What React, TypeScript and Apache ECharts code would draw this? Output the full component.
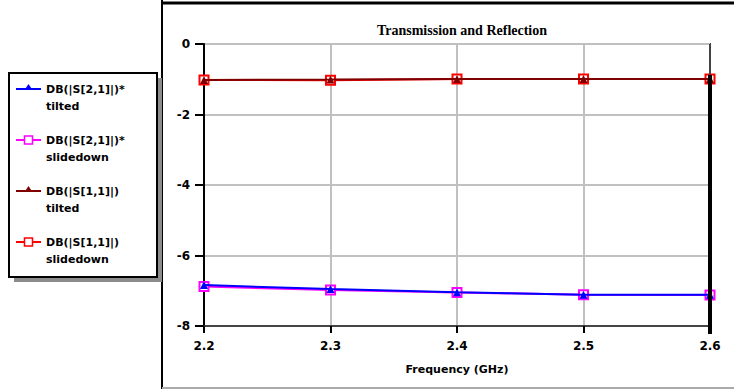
import React, { useEffect, useRef } from "react";
import * as echarts from "echarts";

const freqs = [2.2, 2.3, 2.4, 2.5, 2.6];
const s21Tilted = [-6.84, -6.95, -7.04, -7.11, -7.11];
const s21Slide = [-6.88, -6.98, -7.05, -7.11, -7.12];
const s11Tilted = [-1.02, -1.01, -0.99, -0.99, -0.99];
const s11Slide = [-1.02, -1.03, -0.99, -0.99, -0.99];
const yTicks = [-8, -6, -4, -2, 0];
const xTicks = [2.2, 2.3, 2.4, 2.5, 2.6];

const seriesDefs = [
  { name: "DB(|S[2,1]|)*\ntilted", line1: "DB(|S[2,1]|)*", line2: "tilted", data: s21Tilted, color: "#0000ff", symbol: "triangle", z: 6 },
  { name: "DB(|S[2,1]|)*\nslidedown", line1: "DB(|S[2,1]|)*", line2: "slidedown", data: s21Slide, color: "#ff00ff", symbol: "emptyRect", z: 5 },
  { name: "DB(|S[1,1]|)\ntilted", line1: "DB(|S[1,1]|)", line2: "tilted", data: s11Tilted, color: "#800000", symbol: "triangle", z: 6 },
  { name: "DB(|S[1,1]|)\nslidedown", line1: "DB(|S[1,1]|)", line2: "slidedown", data: s11Slide, color: "#ff0000", symbol: "emptyRect", z: 5 },
];

export default function App() {
  const ref = useRef<HTMLDivElement>(null);
  useEffect(() => {
    if (!ref.current) return;
    const chart = echarts.init(ref.current, null, { renderer: "svg" });
    const legendItems: any[] = [];
    seriesDefs.forEach((s, i) => {
      const y = 89 + i * 51;
      legendItems.push({ type: "line", shape: { x1: 16, y1: y, x2: 41, y2: y }, style: { stroke: s.color, lineWidth: 2 } });
      if (s.symbol === "triangle") {
        legendItems.push({ type: "polygon", shape: { points: [[28.5, y - 5], [24.5, y + 1], [32.5, y + 1]] }, style: { fill: s.color } });
      } else {
        legendItems.push({ type: "rect", shape: { x: 24.5, y: y - 4, width: 8, height: 8 }, style: { fill: "#fff", stroke: s.color, lineWidth: 1.5 } });
      }
      legendItems.push({ type: "text", x: 46, y: y, style: { text: s.line1, font: "bold 11px 'DejaVu Sans'", fill: "#000", verticalAlign: "middle" } });
      legendItems.push({ type: "text", x: 46, y: y + 17, style: { text: s.line2, font: "bold 11px 'DejaVu Sans'", fill: "#000", verticalAlign: "middle" } });
    });
    chart.setOption({
      animation: false,
      backgroundColor: "#fff",
      title: {
        text: "Transmission and Reflection",
        left: 457,
        textAlign: "center",
        top: 18,
        textStyle: { fontFamily: "Liberation Serif", fontWeight: "bold", fontSize: 14, color: "#000" },
      },
      grid: { left: 204, right: 24, top: 44, bottom: 63, containLabel: false },
      xAxis: {
        type: "value",
        min: 2.2,
        max: 2.6,
        interval: 0.1,
        name: "Frequency (GHz)",
        nameLocation: "middle",
        nameGap: 38,
        nameTextStyle: { fontFamily: "DejaVu Sans", fontSize: 11, fontWeight: "bold", color: "#000" },
        axisLine: { show: true, onZero: false, lineStyle: { color: "#444", width: 2 } },
        axisTick: { show: true, length: 7, lineStyle: { color: "#000", width: 2 } },
        axisLabel: {
          margin: 14,
          fontFamily: "DejaVu Sans",
          fontWeight: "bold",
          fontSize: 12,
          color: "#000",
          formatter: (v: number) => v.toFixed(1),
        },
        splitLine: { show: true, lineStyle: { color: "#c0c0c0", width: 2 } },
      },
      yAxis: {
        type: "value",
        min: -8,
        max: 0,
        interval: 2,
        axisLine: { show: true, onZero: false, lineStyle: { color: "#000", width: 2 } },
        axisTick: { show: true, length: 9, lineStyle: { color: "#000", width: 2 } },
        axisLabel: { margin: 14, fontFamily: "DejaVu Sans", fontWeight: "bold", fontSize: 12, color: "#000" },
        splitLine: { show: true, lineStyle: { color: "#c0c0c0", width: 2 } },
      },
      series: seriesDefs.map((s) => ({
        name: s.name,
        type: "line",
        data: freqs.map((f, i) => [f, s.data[i]]),
        symbol: s.symbol,
        symbolSize: s.symbol === "triangle" ? 8 : 9,
        showSymbol: true,
        lineStyle: { color: s.color, width: 2 },
        itemStyle: { color: s.color, borderWidth: 2 },
        emphasis: { disabled: true },
        z: s.z,
      })),
      graphic: [
        { type: "line", shape: { x1: 162, y1: 0, x2: 162, y2: 389 }, style: { stroke: "#000", lineWidth: 2 } },
        { type: "line", shape: { x1: 161, y1: 3, x2: 734, y2: 3 }, style: { stroke: "#000", lineWidth: 3 } },
        { type: "line", shape: { x1: 162, y1: 388, x2: 734, y2: 388 }, style: { stroke: "#aaa", lineWidth: 2 } },
        { type: "line", shape: { x1: 195, y1: 44, x2: 711, y2: 44 }, style: { stroke: "#444", lineWidth: 2 } },
        { type: "line", shape: { x1: 710, y1: 44, x2: 710, y2: 75 }, style: { stroke: "#444", lineWidth: 2 }, z: 10 },
        { type: "line", shape: { x1: 710, y1: 75, x2: 710, y2: 334 }, style: { stroke: "#000", lineWidth: 4 }, z: 10 },
        { type: "rect", shape: { x: 14, y: 78, width: 148, height: 204 }, style: { fill: "#8c8c8c" } },
        { type: "rect", shape: { x: 9, y: 73, width: 148, height: 204 }, style: { fill: "#fff", stroke: "#000", lineWidth: 2 } },
        ...legendItems,
      ],
    });
    return () => chart.dispose();
  }, []);
  return <div ref={ref} style={{ position: "absolute", left: 0, top: 0, width: 734, height: 389 }} />;
}
